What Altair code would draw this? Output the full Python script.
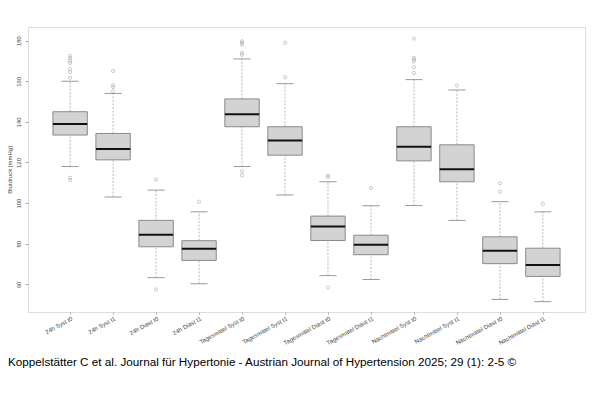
import altair as alt
import pandas as pd

categories = ["24h Syst t0", "24h Syst t1", "24h Diast t0", "24h Diast t1",
              "Tagesmittel Syst t0", "Tagesmittel Syst t1", "Tagesmittel Diast t0", "Tagesmittel Diast t1",
              "Nachtmittel Syst t0", "Nachtmittel Syst t1", "Nachtmittel Diast t0", "Nachtmittel Diast t1"]
whisk_lo = [118, 103, 63.3, 60.3, 118, 104, 64.3, 62.4, 98.8, 91.5, 52.6, 51.5]
q1 = [133.5, 121.3, 78.5, 71.8, 137.6, 123.6, 81.6, 74.6, 120.8, 110.5, 70.2, 63.9]
median = [139, 126.7, 84.4, 77.5, 143.8, 130.8, 88.5, 79.5, 127.7, 116.7, 76.6, 69.5]
q3 = [145, 134.3, 91.5, 81.5, 151.3, 137.6, 93.6, 84.2, 137.6, 128.7, 83.4, 77.8]
whisk_hi = [160, 154, 106.4, 95.7, 171, 158.8, 110.5, 98.7, 160.8, 155.7, 100.7, 95.7]
outliers = [
    [172.5, 171.3, 170.2, 169, 166, 164.5, 161.7, 112.5, 111.3],
    [165, 158, 157, 155],
    [111.6, 57.5],
    [100.7],
    [179.7, 178.9, 178, 174, 173, 115.7, 113.7],
    [178.9, 162],
    [113.6, 112.8, 58.5],
    [107.5],
    [181, 171.5, 170.7, 169.8, 166.9, 164.1],
    [157.9],
    [109.7, 105.6],
    [99.7],
]
caption = "Koppelstätter C et al. Journal für Hypertonie - Austrian Journal of Hypertension 2025; 29 (1): 2-5 ©"

summary = pd.DataFrame({
    "pos": list(range(1, len(categories) + 1)),
    "cat": categories,
    "lo": whisk_lo, "q1": q1, "med": median, "q3": q3, "hi": whisk_hi,
})
out_df = pd.DataFrame([
    {"pos": i + 1, "v": v} for i, vals in enumerate(outliers) for v in vals
])

xscale = alt.Scale(domain=[0.02, 12.98], nice=False, zero=False)
yscale = alt.Scale(domain=[46.4, 186.7], nice=False, zero=False)

label_expr = "[" + ",".join("'" + c + "'" for c in categories) + "][datum.value-1]"

xaxis = alt.Axis(values=list(range(1, 13)), labelExpr=label_expr, labelAngle=-29,
                 labelAlign="right", labelBaseline="top", labelPadding=1,
                 labelOverlap=False, labelBound=False,
                 tickSize=2, tickColor="#aaa", labelFontSize=6, labelColor="#444",
                 domain=False, grid=False, title=None, labelFont="Liberation Sans")
yaxis = alt.Axis(values=[60, 80, 100, 120, 140, 160, 180], labelAngle=-90,
                 labelAlign="center", labelBaseline="bottom", labelPadding=4,
                 labelOverlap=False,
                 tickSize=3, tickColor="#aaa", labelFontSize=6, labelColor="#444",
                 domain=False, grid=False, title="Blutdruck [mmHg]", titleFontSize=6,
                 titleFontWeight="normal", titleColor="#444", titlePadding=3,
                 labelFont="Liberation Sans", titleFont="Liberation Sans")

base = alt.Chart(summary).transform_calculate(
    xl="datum.pos - 0.4", xr="datum.pos + 0.4",
    cl="datum.pos - 0.2", cr="datum.pos + 0.2",
)

wcol = "#b0b0b0"
wh_lo = base.mark_rule(color=wcol, strokeDash=[2, 1.5], strokeWidth=0.9).encode(
    x=alt.X("pos:Q", scale=xscale, axis=xaxis),
    y=alt.Y("lo:Q", scale=yscale, axis=yaxis),
    y2="q1:Q",
)
wh_hi = base.mark_rule(color=wcol, strokeDash=[2, 1.5], strokeWidth=0.9).encode(
    x="pos:Q", y="q3:Q", y2="hi:Q",
)
cap_lo = base.mark_rule(color="#999", strokeWidth=1).encode(
    x="cl:Q", x2="cr:Q", y="lo:Q",
)
cap_hi = base.mark_rule(color="#999", strokeWidth=1).encode(
    x="cl:Q", x2="cr:Q", y="hi:Q",
)
box = base.mark_rect(fill="#d3d3d3", stroke="#8a8a8a", strokeWidth=1).encode(
    x="xl:Q", x2="xr:Q", y="q1:Q", y2="q3:Q",
)
med = base.mark_rule(color="#111", strokeWidth=2).encode(
    x="xl:Q", x2="xr:Q", y="med:Q",
)
pts = alt.Chart(out_df).mark_point(shape="circle", filled=False, size=10,
                                   color="#a0a0a0", strokeWidth=0.8).encode(
    x="pos:Q", y="v:Q",
)
cap_text = alt.Chart(pd.DataFrame({"t": [caption]})).mark_text(
    align="left", baseline="middle", fontSize=11.7, font="Liberation Sans", color="#000",
).encode(
    text="t:N", x=alt.value(-20), y=alt.value(335),
)

chart = alt.layer(wh_lo, wh_hi, cap_lo, cap_hi, box, med, pts, cap_text).properties(
    width=557, height=285,
    padding={"left": 20, "top": 19, "right": 7, "bottom": 90},
    autosize=alt.AutoSizeParams(type="none"),
).configure_view(stroke="#bbb", strokeWidth=1).configure(background="white")

chart.save("out.html", embed_options={"renderer": "svg", "actions": False})
